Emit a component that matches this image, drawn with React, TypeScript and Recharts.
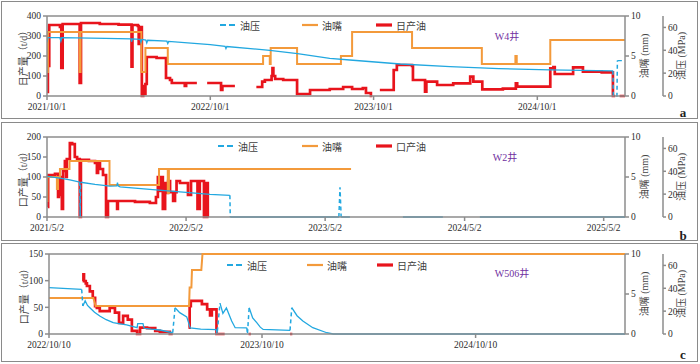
import { LineChart, Line, XAxis, YAxis, ReferenceLine } from "recharts";

type Pt = [number, number | null];

const FONT = '"Liberation Serif", "Times New Roman", "Noto Sans CJK SC", serif';
const RED = "#e8141c";
const ORANGE = "#f39a3b";
const BLUE = "#22a8e0";
const AXIS = "#8c8c8c";
const INK = "#2b2b2b";

// ---- W4井, x = days since 2021/10/1
const w4Ticks = [0, 365, 730, 1096];
const w4TickLabels = ["2021/10/1", "2022/10/1", "2023/10/1", "2024/10/1"];
const w4Oil: Pt[] = [
  [0, 20], [2, 150], [5, 355], [29, 345], [32, 140], [35, 360], [73, 65], [76, 365],
  [118, 360], [160, 357], [189, 147], [191, 355], [203, 350], [205, 260], [207, 345],
  [212, 0], [215, 50], [218, 10], [220, 60], [223, 195], [245, 190], [266, 90], [275, 80],
  [279, 65], [308, 50], [311, 65], [335, 65], [336, null], [358, 65], [389, 30], [392, 50],
  [420, 50], [421, null], [468, 45], [481, 72], [487, 80], [502, 100], [504, 140], [506, 100],
  [510, 85], [528, 80], [559, 10], [588, 30], [632, 35], [662, 45], [682, 35], [706, 40],
  [713, 15], [724, 0], [727, 0], [728, null], [744, 30], [775, 130], [782, 155], [816, 150],
  [818, 80], [845, 22], [848, 72], [872, 55], [908, 63], [946, 97], [953, 72], [973, 33],
  [1019, 37], [1048, 63], [1051, 47], [1125, 138], [1132, 145], [1135, 110], [1176, 143],
  [1198, 122], [1240, 118], [1265, 0], [1270, 0], [1271, null], [1280, 0], [1292, 0],
];
const w4Choke: Pt[] = [
  [0, 3], [2, 8], [73, 3], [75, 8], [211, 3], [220, 6], [270, 4], [483, 5], [498, 4],
  [500, 6], [559, 4], [657, 5], [682, 8], [816, 6], [972, 4], [1047, 5], [1050, 4],
  [1125, 7], [1292, 7],
];
const w4Pres: Pt[] = [
  [0, 47], [2, 51], [29, 51], [31, 48], [33, 51], [130, 50.5], [188, 50], [189, 47.5],
  [191, 50], [208, 49.6], [210, 47], [212, 49.5], [221, 49], [223, 46.5], [225, 48.8],
  [268, 48], [270, 46], [272, 47.8], [365, 45], [398, 43.5], [400, 41.5], [402, 43.3],
  [498, 40], [560, 37], [632, 33], [677, 31.5], [790, 28], [901, 25.7], [1010, 24],
  [1124, 22.8], [1265, 22], [1266, null], [1275, 31], [1285, 31],
];
const w4PresJump: Pt[] = [[1265, 22], [1266, 0], [1274, 0], [1275, 31]];
const w4Legend = ["油压", "油嘴", "日产油"];

// ---- W2井, x = days since 2021/5/2
const w2Ticks = [0, 365, 730, 1096, 1461];
const w2TickLabels = ["2021/5/2", "2022/5/2", "2023/5/2", "2024/5/2", "2025/5/2"];
const w2Oil: Pt[] = [
  [2, 25], [3, 105], [21, 108], [29, 50], [31, 95], [34, 55], [37, 100], [39, 20], [42, 115],
  [47, 140], [50, 100], [52, 145], [60, 185], [66, 182], [73, 150], [79, 145], [86, 0],
  [89, 143], [110, 140], [126, 135], [131, 110], [134, 135], [139, 120], [147, 105], [155, 0],
  [160, 40], [181, 40], [184, 20], [186, 40], [231, 38], [270, 35], [286, 50], [291, 100],
  [297, 65], [299, 100], [304, 20], [310, 85], [315, 60], [318, 90], [323, 62], [331, 40],
  [336, 62], [340, 90], [349, 85], [370, 55], [378, 90], [395, 20], [401, 90], [412, 0],
  [415, 85], [422, 0], [424, 0],
];
const w2Choke: Pt[] = [
  [0, 2], [1, 5], [26, 3.5], [29, 5], [34, 6], [59, 7], [164, 4], [294, 6], [317, 3],
  [320, 6], [798, 6],
];
const w2Pres: Pt[] = [
  [0, 35.5], [34, 34], [60, 32.5], [86, 30.6], [87, null], [88, 30.4], [126, 28.5],
  [165, 27.1], [183, 27.3], [185, 30], [187, 27], [192, 26.3], [270, 24.2], [349, 21.9],
  [428, 19.8], [480, 19], [480.5, null], [481, 0], [766, 0], [767, null], [772, 0], [795, 0],
  [796, null], [934, 0], [1039, 0], [1040, null], [1136, 0], [1517, 0],
];
const w2PresJump: Pt[] = [
  [86, 30.6], [87, 0], [88, 30.4], [88.5, null], [480, 19], [481, 0], [481.5, null],
  [766, 0], [769, 26], [772, 0],
];
const w2Legend = ["油压", "油嘴", "口产油"];

// ---- W506井, x = days since 2022/10/10
const w506Ticks = [0, 365, 731];
const w506TickLabels = ["2022/10/10", "2023/10/10", "2024/10/10"];
const w506Oil: Pt[] = [
  [58, 99], [59, 112], [60, 99], [63, 95], [65, 90], [70, 80], [75, 68], [79, 52], [82, 49],
  [87, 43], [104, 49], [113, 40], [120, 21], [127, 34], [135, 27], [142, 6], [151, 0],
  [156, 12], [168, 11], [182, 6], [190, 4], [207, 0], [212, 0], [213, null], [239, 12],
  [241, 52], [243, 62], [262, 56], [271, 46], [276, 35], [279, 46], [287, 0], [301, 0],
  [302, null], [342, 0], [346, 0], [347, null], [413, 0], [417, 0],
];
const w506Choke: Pt[] = [
  [0, 4.5], [76, 4.5], [80, 3.5], [240, 3.5], [241, 5.8], [244, 5.8], [245, 8], [261, 8],
  [263, 10], [987, 10],
];
const w506Pres: Pt[] = [
  [0, 40.5], [56, 39], [57, null], [58, 24.5], [62, 29], [66, 25], [70, 23], [78, 19],
  [87, 15.8], [98, 12.5], [110, 9.9], [122, 8.8], [133, 7.9], [151, 5.5], [152, 9], [161, 9],
  [163, 5], [175, 4.2], [190, 3.5], [212, 1.1], [213, null], [216, 23], [224, 18.7],
  [236, 15], [242, 5.3], [260, 4.3], [287, 3.75], [288, null], [293, 27], [298, 18],
  [304, 22.8], [313, 11.4], [319, 5.5], [339, 5.3], [340, null], [343, 23], [349, 14],
  [356, 9.9], [362, 6], [367, 4], [413, 3.2], [414, null], [416, 23], [425, 16], [435, 11.4],
  [452, 5.5], [476, 1.1], [487, 0], [987, 0],
];
const w506PresJump: Pt[] = [
  [56, 39], [58, 24.5], [58.5, null], [212, 1.1], [216, 23], [216.5, null], [287, 3.75],
  [288, 0], [293, 27], [293.5, null], [339, 5.3], [340, 0], [343, 23], [343.5, null],
  [413, 3.2], [416, 23],
];
const w506Legend = ["油压", "油嘴", "日产油"];

const rows = (pts: Pt[]) => pts.map(([d, v]) => ({ d, v }));

const VTitle = ({ x, y, text }: { x: number; y: number; text: string }) => (
  <text
    x={x}
    y={y}
    transform={`rotate(-90 ${x} ${y})`}
    textAnchor="middle"
    dominantBaseline="central"
    fontSize={10}
    fill="#444"
    fontFamily={FONT}
  >
    {text}
  </text>
);

type PanelProps = {
  top: number;
  leftW: number;
  dayMax: number;
  ticks: number[];
  tickLabels: string[];
  oilMax: number;
  oilTicks: number[];
  oilTitle: string;
  titleY: number[];
  oil: Pt[];
  choke: Pt[];
  chokeStep: boolean;
  pres: Pt[];
  presJump: Pt[];
};

function Panel(p: PanelProps) {
  const tick = { fontSize: 9.5, fill: INK, fontFamily: FONT };
  return (
    <div style={{ position: "absolute", left: 0, top: p.top }}>
      <LineChart width={700} height={120} margin={{ top: 16, right: 0, bottom: 0, left: 0 }}>
        <XAxis
          type="number"
          dataKey="d"
          domain={[0, p.dayMax]}
          ticks={p.ticks}
          interval={0}
          tickFormatter={(v: number) => p.tickLabels[p.ticks.indexOf(v)] ?? ""}
          height={24}
          stroke={AXIS}
          strokeWidth={1.5}
          tickSize={4}
          tickMargin={3}
          tick={tick}
          allowDataOverflow
        />
        <YAxis
          yAxisId="oil"
          width={p.leftW}
          domain={[0, p.oilMax]}
          ticks={p.oilTicks}
          interval={0}
          stroke={AXIS}
          strokeWidth={1.5}
          tickSize={4}
          tick={tick}
          label={<VTitle x={15} y={p.titleY[0]} text={p.oilTitle} />}
        />
        <YAxis
          yAxisId="mm"
          orientation="right"
          width={38}
          domain={[0, 10]}
          ticks={[0, 5, 10]}
          interval={0}
          stroke={AXIS}
          strokeWidth={1.5}
          tickSize={4}
          tick={tick}
          label={<VTitle x={650} y={p.titleY[1]} text="油嘴 (mm)" />}
        />
        <YAxis
          yAxisId="mpa"
          orientation="right"
          width={37}
          domain={[0, 70]}
          ticks={[0, 20, 40, 60]}
          interval={0}
          stroke={AXIS}
          strokeWidth={1.5}
          tickSize={3}
          tick={tick}
          label={<VTitle x={688} y={p.titleY[2]} text="油压 (MPa)" />}
        />
        <ReferenceLine yAxisId="oil" y={p.oilMax} stroke={AXIS} strokeWidth={1.5} />
        <Line
          yAxisId="oil"
          data={rows(p.oil)}
          dataKey="v"
          type="stepAfter"
          stroke={RED}
          strokeWidth={2.7}
          dot={false}
          isAnimationActive={false}
        />
        <Line
          yAxisId="mm"
          data={rows(p.choke)}
          dataKey="v"
          type={p.chokeStep ? "stepAfter" : "linear"}
          stroke={ORANGE}
          strokeWidth={2}
          dot={false}
          isAnimationActive={false}
        />
        <Line
          yAxisId="mpa"
          data={rows(p.pres)}
          dataKey="v"
          type="linear"
          stroke={BLUE}
          strokeWidth={1.3}
          dot={false}
          isAnimationActive={false}
        />
        <Line
          yAxisId="mpa"
          data={rows(p.presJump)}
          dataKey="v"
          type="linear"
          stroke={BLUE}
          strokeWidth={1.5}
          strokeDasharray="4 3"
          dot={false}
          isAnimationActive={false}
        />
      </LineChart>
    </div>
  );
}

function LegendRow({ y, xs, names }: { y: number; xs: number[]; names: string[] }) {
  const marks = [
    { color: BLUE, w: 1.8, dash: "6 3" },
    { color: ORANGE, w: 2.2, dash: undefined },
    { color: RED, w: 3.2, dash: undefined },
  ];
  return (
    <>
      {xs.map((x, i) => (
        <div
          key={i}
          style={{
            position: "absolute",
            left: x,
            top: y - 7,
            height: 14,
            display: "flex",
            alignItems: "center",
            whiteSpace: "nowrap",
          }}
        >
          <svg width={16} height={14}>
            <line
              x1={0}
              x2={16}
              y1={7}
              y2={7}
              stroke={marks[i].color}
              strokeWidth={marks[i].w}
              strokeDasharray={marks[i].dash}
            />
          </svg>
          <span style={{ marginLeft: 4, fontSize: 10, color: "#404040", fontFamily: FONT }}>
            {names[i]}
          </span>
        </div>
      ))}
    </>
  );
}

const frame = (top: number, height: number) => (
  <div
    style={{
      position: "absolute",
      left: 1,
      top,
      width: 697,
      height,
      border: "1.5px solid #8a8a8a",
      boxSizing: "border-box",
    }}
  />
);

const wellTitle = (x: number, y: number, text: string) => (
  <div
    style={{
      position: "absolute",
      left: x - 40,
      top: y - 7,
      width: 80,
      textAlign: "center",
      fontSize: 10,
      lineHeight: "14px",
      color: "#7030a0",
      fontFamily: FONT,
    }}
  >
    {text}
  </div>
);

const tag = (y: number, text: string) => (
  <div
    style={{
      position: "absolute",
      left: 677,
      top: y - 8,
      width: 12,
      textAlign: "center",
      fontSize: 13,
      lineHeight: "16px",
      fontWeight: "bold",
      color: "#222",
      fontFamily: FONT,
    }}
  >
    {text}
  </div>
);

export default function App() {
  return (
    <div
      style={{
        position: "absolute",
        left: 0,
        top: 0,
        width: 700,
        height: 364,
        background: "#fff",
        overflow: "hidden",
      }}
    >
      {frame(1, 118)}
      {frame(122, 119)}
      {frame(243, 119)}
      <Panel
        top={0}
        leftW={47}
        dayMax={1292}
        ticks={w4Ticks}
        tickLabels={w4TickLabels}
        oilMax={400}
        oilTicks={[0, 100, 200, 300, 400]}
        oilTitle="日产量（t/d）"
        titleY={[58, 62, 61]}
        oil={w4Oil}
        choke={w4Choke}
        chokeStep
        pres={w4Pres}
        presJump={w4PresJump}
      />
      <Panel
        top={121}
        leftW={47}
        dayMax={1517}
        ticks={w2Ticks}
        tickLabels={w2TickLabels}
        oilMax={200}
        oilTicks={[0, 50, 100, 150, 200]}
        oilTitle="口产量（t/d）"
        titleY={[65, 63, 62]}
        oil={w2Oil}
        choke={w2Choke}
        chokeStep
        pres={w2Pres}
        presJump={w2PresJump}
      />
      <Panel
        top={238}
        leftW={49}
        dayMax={987}
        ticks={w506Ticks}
        tickLabels={w506TickLabels}
        oilMax={150}
        oilTicks={[0, 50, 100, 150]}
        oilTitle="口产量（t/d）"
        titleY={[61, 56, 61]}
        oil={w506Oil}
        choke={w506Choke}
        chokeStep={false}
        pres={w506Pres}
        presJump={w506PresJump}
      />
      <LegendRow y={25} xs={[220, 302, 376]} names={w4Legend} />
      <LegendRow y={146} xs={[218, 302, 376]} names={w2Legend} />
      <LegendRow y={265} xs={[227, 307, 377]} names={w506Legend} />
      {wellTitle(507, 37, "W4井")}
      {wellTitle(505, 158, "W2井")}
      {wellTitle(512, 274, "W506井")}
      {tag(113, "a")}
      {tag(236, "b")}
      {tag(355, "c")}
    </div>
  );
}
